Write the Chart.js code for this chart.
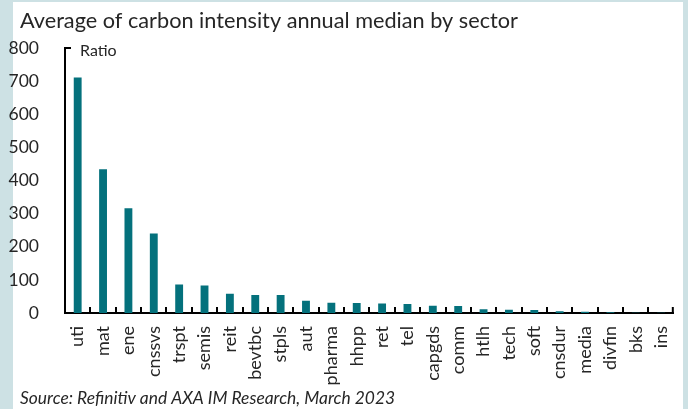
<!DOCTYPE html>
<html>
<head>
<meta charset="utf-8">
<script src="https://cdn.jsdelivr.net/npm/chart.js@4"></script>
<style>
    html, body { margin: 0; padding: 0; background: #cde1e4; }
    #wrap { width: 688px; height: 409px; position: relative; }
</style>
</head>
<body>
<div id="wrap"><canvas id="sectorChart" width="688" height="409"></canvas></div>
<script>
const sectors = ['uti', 'mat', 'ene', 'cnssvs', 'trspt', 'semis', 'reit', 'bevtbc', 'stpls', 'aut',
    'pharma', 'hhpp', 'ret', 'tel', 'capgds', 'comm', 'htlh', 'tech', 'soft', 'cnsdur',
    'media', 'divfin', 'bks', 'ins'];
const intensity = [711, 434, 316, 240, 86, 83, 58, 54, 54, 37,
    31, 30, 29, 27, 22, 21, 11, 10, 9, 5,
    4, 2, 1, 1];
const yTicks = [0, 100, 200, 300, 400, 500, 600, 700, 800];

const titleText = 'Average of carbon intensity annual median by sector';
const sourceText = 'Source: Refinitiv and AXA IM Research, March 2023';
const FONT = 'Lato, "Noto Sans", sans-serif';

// panel background + title/source text
const panelPlugin = {
    id: 'panel',
    beforeDraw(chart) {
        const ctx = chart.ctx;
        ctx.save();
        ctx.fillStyle = '#cde1e4';
        ctx.fillRect(0, 0, chart.width, chart.height);
        ctx.fillStyle = '#ffffff';
        ctx.fillRect(13, 2, 670, chart.height - 2);
        ctx.restore();
    },
    afterDraw(chart) {
        const ctx = chart.ctx;
        const x = chart.scales.x;
        const y = chart.scales.y;
        const area = chart.chartArea;
        ctx.save();
        ctx.fillStyle = '#262626';
        ctx.textBaseline = 'alphabetic';
        ctx.textAlign = 'left';
        ctx.font = '21.7px ' + FONT;
        ctx.fillText(titleText, 20, 28);
        ctx.font = '16px ' + FONT;
        ctx.fillText('Ratio', 80, 56);
        ctx.font = 'italic 17.4px ' + FONT;
        ctx.fillText(sourceText, 20, 404);

        // tick marks on the inside, between categories
        ctx.strokeStyle = '#000000';
        ctx.lineWidth = 2;
        ctx.beginPath();
        const half = (x.getPixelForValue(1) - x.getPixelForValue(0)) / 2;
        for (let i = 0; i < sectors.length; i++) {
            const tx = i === sectors.length - 1 ? area.right - 1 : Math.round(x.getPixelForValue(i) + half);
            ctx.moveTo(tx, area.bottom);
            ctx.lineTo(tx, area.bottom - 6);
        }
        // small tick at the top of the value axis
        const top = Math.round(y.getPixelForValue(800));
        ctx.moveTo(area.left, top);
        ctx.lineTo(area.left + 6, top);
        ctx.stroke();
        ctx.restore();
    }
};

function renderChart() {
    const ctx = document.getElementById('sectorChart').getContext('2d');
    const data = {
        labels: sectors,
        datasets: [{
            label: 'Ratio',
            data: intensity,
            backgroundColor: '#04717c',
            categoryPercentage: 1,
            barPercentage: 0.31,
        }]
    };
    const config = {
        type: 'bar',
        data: data,
        options: {
            responsive: false,
            animation: false,
            devicePixelRatio: 1,
            layout: { padding: { left: 0, right: 13, top: 48, bottom: 0 } },
            plugins: {
                legend: { display: false },
                tooltip: { enabled: false }
            },
            scales: {
                x: {
                    grid: { display: false },
                    border: { display: true, color: '#000000', width: 2 },
                    ticks: {
                        color: '#262626',
                        font: { family: FONT, size: 18 },
                        minRotation: 90,
                        maxRotation: 90,
                        autoSkip: false,
                        padding: 5
                    },
                    afterFit(scale) { scale.height = 96; }
                },
                y: {
                    min: 0,
                    max: 800,
                    grid: { display: false },
                    border: { display: true, color: '#000000', width: 2 },
                    afterBuildTicks(scale) { scale.ticks = yTicks.map(v => ({ value: v })); },
                    ticks: {
                        color: '#262626',
                        font: { family: FONT, size: 17.5 },
                        padding: 18
                    },
                    afterFit(scale) { scale.width = 65; }
                }
            }
        },
        plugins: [panelPlugin]
    };
    new Chart(ctx, config);
}

renderChart();
</script>
</body>
</html>
